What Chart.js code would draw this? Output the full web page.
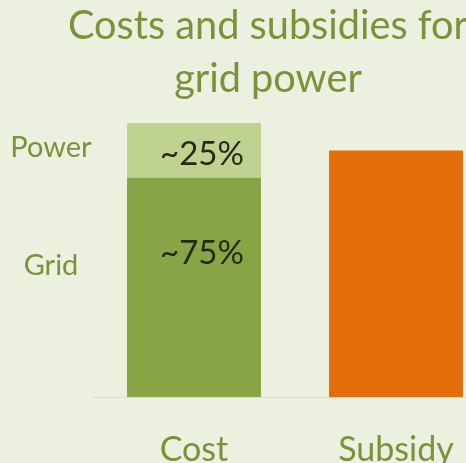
<!DOCTYPE html>
<html>
<head>
<meta charset="utf-8">
<script src="https://cdn.jsdelivr.net/npm/chart.js@4.4.1/dist/chart.umd.min.js"></script>
<style>
  html, body { margin: 0; padding: 0; background: #EBF1DE; overflow: hidden; }
  #wrap { width: 466px; height: 463px; overflow: hidden; position: relative; }
  canvas { display: block; }
</style>
</head>
<body>
<div id="wrap"><canvas id="c" width="510" height="463"></canvas></div>
<script>
// ---- data ----
const categories = ['Cost', 'Subsidy'];
const gridValues = [80, null];      // grid share of cost (lower segment)
const powerValues = [20, null];     // power share of cost (upper segment)
const subsidyValues = [null, 90];   // subsidy relative to cost
const segmentNames = ['Grid', 'Power'];
const percentLabels = ['~75%', '~25%'];
const titleLines = ['Costs and subsidies for', 'grid power'];

const FONT = 'Lato, "Open Sans", sans-serif';
const GREEN_TEXT = '#77933C';

const annotate = {
  id: 'annotate',
  afterDatasetsDraw(chart) {
    const ctx = chart.ctx;
    ctx.save();
    // offsets: [name baseline, percent baseline] relative to segment top
    const nameOff = [96.7, 33.7];
    const pctOff = [86, 42];
    for (let i = 0; i < 2; i++) {
      const el = chart.getDatasetMeta(i).data[0];
      if (!el) continue;
      ctx.textBaseline = 'alphabetic';
      ctx.textAlign = 'center';
      ctx.fillStyle = '#222B16';
      ctx.font = '33px ' + FONT;
      ctx.fillText(percentLabels[i], el.x + 8, el.y + pctOff[i]);
      ctx.fillStyle = GREEN_TEXT;
      ctx.font = '29px ' + FONT;
      ctx.fillText(segmentNames[i], chart.chartArea.left - 42, el.y + nameOff[i]);
    }
    ctx.restore();
  }
};

new Chart(document.getElementById('c'), {
  type: 'bar',
  data: {
    labels: categories,
    datasets: [
      { label: segmentNames[0], data: gridValues, backgroundColor: '#87A544' },
      { label: segmentNames[1], data: powerValues, backgroundColor: '#BFD28F' },
      { label: 'Subsidy', data: subsidyValues, backgroundColor: '#E46C0A' }
    ]
  },
  options: {
    responsive: false,
    animation: false,
    layout: { padding: { left: 39, right: 13, top: 0, bottom: 0 } },
    datasets: { bar: { categoryPercentage: 1, barPercentage: 0.663 } },
    plugins: {
      legend: { display: false },
      tooltip: { enabled: false },
      title: {
        display: true,
        text: titleLines,
        color: GREEN_TEXT,
        font: { family: FONT, size: 39.7, weight: 'normal', lineHeight: 1.33 },
        padding: { top: 0, bottom: 17.4 }
      }
    },
    scales: {
      x: {
        stacked: true,
        grid: { display: false, drawTicks: false },
        border: { display: true, color: '#D8E0C8', width: 1 },
        ticks: { color: GREEN_TEXT, font: { family: FONT, size: 34 }, padding: 32.5 },
        afterFit(s) { s.height = 66; }
      },
      y: {
        stacked: true,
        min: 0,
        max: 100,
        grid: { display: false, drawTicks: false },
        border: { display: false },
        ticks: { display: false },
        afterFit(s) { s.width = 54; }
      }
    }
  },
  plugins: [annotate]
});
</script>
</body>
</html>
